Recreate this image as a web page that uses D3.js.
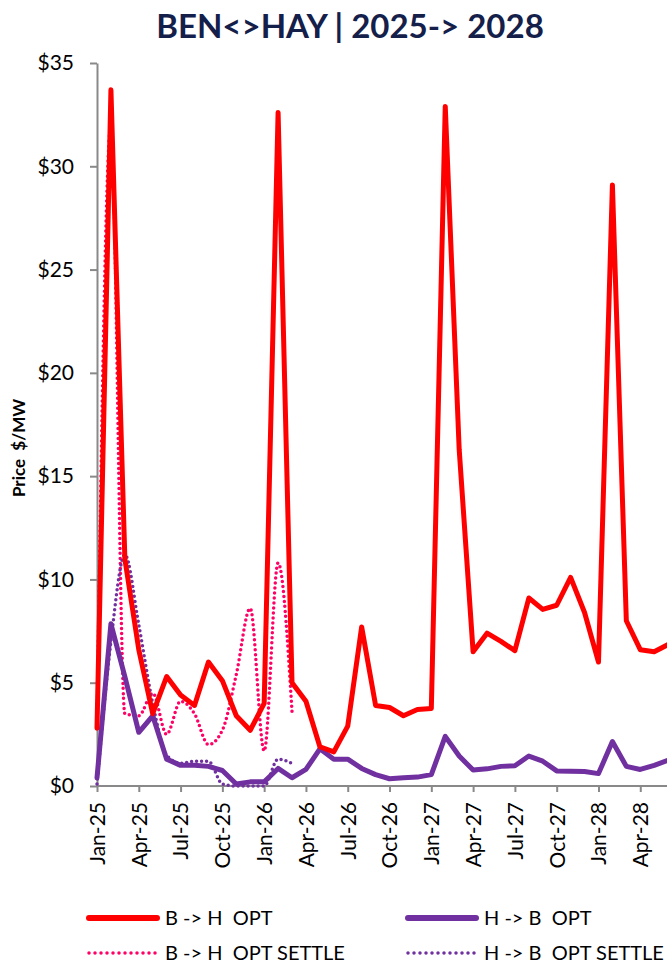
<!DOCTYPE html>
<html>
<head>
<meta charset="utf-8">
<script src="https://cdn.jsdelivr.net/npm/d3@7/dist/d3.min.js"></script>
<style>
  body { margin: 0; background: #fff; }
  svg { display: block; font-family: Lato, "Open Sans", sans-serif; }
  svg text { white-space: pre; }
  .axis path, .axis line { stroke: #898989; stroke-width: 2; }
  .axis text { fill: #000; font-size: 21px; font-family: Lato, "Open Sans", sans-serif; }
</style>
</head>
<body>
<div id="canvas"></div>
<script>
// months on the x axis, Jan-25 .. Jun-28 (chart is cut at the right edge)
var months = ['Jan-25','Feb-25','Mar-25','Apr-25','May-25','Jun-25','Jul-25','Aug-25','Sep-25','Oct-25','Nov-25','Dec-25',
              'Jan-26','Feb-26','Mar-26','Apr-26','May-26','Jun-26','Jul-26','Aug-26','Sep-26','Oct-26','Nov-26','Dec-26',
              'Jan-27','Feb-27','Mar-27','Apr-27','May-27','Jun-27','Jul-27','Aug-27','Sep-27','Oct-27','Nov-27','Dec-27',
              'Jan-28','Feb-28','Mar-28','Apr-28','May-28','Jun-28'];
var tickMonths = ['Jan-25','Apr-25','Jul-25','Oct-25','Jan-26','Apr-26','Jul-26','Oct-26','Jan-27','Apr-27','Jul-27','Oct-27','Jan-28','Apr-28'];
var yTicks = [0,5,10,15,20,25,30,35];

var bhOpt = [2.8,33.7,11.0,6.6,3.5,5.3,4.4,3.9,6.0,5.1,3.4,2.7,
             4.0,32.6,5.0,4.1,1.9,1.65,2.9,7.7,3.9,3.8,3.4,3.7,
             3.75,32.9,16.3,6.5,7.4,7.0,6.55,9.1,8.55,8.75,10.1,8.4,
             6.0,29.1,8.0,6.6,6.5,6.85];
var hbOpt = [0.4,7.85,5.3,2.6,3.4,1.3,1.0,1.0,0.95,0.75,0.1,0.2,
             0.2,0.85,0.4,0.8,1.8,1.3,1.3,0.85,0.55,0.35,0.4,0.43,
             0.55,2.4,1.45,0.77,0.83,0.95,0.98,1.45,1.2,0.73,0.72,0.7,
             0.6,2.15,0.95,0.8,1.0,1.25];
var bhSettle = [2.9,32.0,3.5,3.4,4.5,2.5,4.1,3.5,2.0,2.7,5.4,8.6,1.7,10.8,3.6];
var hbSettle = [0.1,7.0,11.2,7.8,4.0,1.5,1.1,1.2,1.2,0.1,0.0,0.0,0.0,1.3,1.1];

var W = 667, H = 967;
var m = {t:63, l:97, b:181};

var svg = d3.select('#canvas').append('svg')
    .attr('width', W).attr('height', H);

var scaleX = d3.scalePoint()
    .domain(months)
    .range([m.l, m.l + 13.93*(months.length-1)]);
var scaleY = d3.scaleLinear()
    .domain([0,35])
    .range([H - m.b, m.t]);

// title
svg.append('text')
    .attr('x', 350).attr('y', 38)
    .attr('text-anchor','middle')
    .style('font-size','33px').style('font-weight','bold')
    .style('fill','#14204a')
    .text('BEN<>HAY | 2025-> 2028');

// axes
var axisY = d3.axisLeft(scaleY)
    .tickValues(yTicks)
    .tickSize(7).tickSizeOuter(0).tickPadding(16)
    .tickFormat(function(d){ return '$' + d; });
svg.append('g').attr('class','axis axis-y')
    .attr('transform','translate(' + m.l + ',0)')
    .call(axisY);

var axisX = d3.axisBottom(scaleX)
    .tickValues(tickMonths)
    .tickSize(6).tickSizeOuter(0);
var gx = svg.append('g').attr('class','axis axis-x')
    .attr('transform','translate(0,' + (H - m.b) + ')')
    .call(axisX);
gx.select('.domain').attr('d','M' + m.l + ',0H' + W);
gx.selectAll('text')
    .attr('transform','rotate(-90)')
    .attr('x', -16).attr('y', 0).attr('dy','0.35em')
    .style('text-anchor','end');

svg.append('text')
    .attr('transform','translate(25,448) rotate(-90)')
    .attr('text-anchor','middle')
    .style('font-size','17px').style('font-weight','bold')
    .text('Price  $/MW');

// lines
var series = [
    {name:'B -> H  OPT SETTLE', vals:bhSettle, color:'#ff0066', dotted:true},
    {name:'H -> B  OPT SETTLE', vals:hbSettle, color:'#7030a0', dotted:true},
    {name:'H -> B  OPT', vals:hbOpt, color:'#7030a0', dotted:false},
    {name:'B -> H  OPT', vals:bhOpt, color:'#ff0000', dotted:false}
];

var line = d3.line()
    .x(function(d,i){ return scaleX(months[i]); })
    .y(function(d){ return scaleY(d); });
var smooth = d3.line()
    .x(function(d,i){ return scaleX(months[i]); })
    .y(function(d){ return scaleY(d); })
    .curve(d3.curveMonotoneX);

svg.selectAll('path.series')
    .data(series)
    .enter()
    .append('path')
    .attr('class','series')
    .attr('d', function(d){ return d.dotted ? smooth(d.vals) : line(d.vals); })
    .style('fill','none')
    .style('stroke', function(d){ return d.color; })
    .style('stroke-width', function(d){ return d.dotted ? 3.5 : 5; })
    .style('stroke-linecap','round')
    .style('stroke-linejoin','round')
    .style('stroke-dasharray', function(d){ return d.dotted ? '0,5' : null; });

// legend
var legendItems = [
    {name:'B -> H  OPT', color:'#ff0000', dotted:false, x:89, y:918},
    {name:'H -> B  OPT', color:'#7030a0', dotted:false, x:408, y:918},
    {name:'B -> H  OPT SETTLE', color:'#ff0066', dotted:true, x:89, y:953},
    {name:'H -> B  OPT SETTLE', color:'#7030a0', dotted:true, x:408, y:953}
];
var lg = svg.selectAll('g.legend')
    .data(legendItems)
    .enter()
    .append('g')
    .attr('class','legend')
    .attr('transform', function(d){ return 'translate(' + d.x + ',' + d.y + ')'; });
lg.append('line')
    .attr('x1',0).attr('x2',68)
    .style('stroke', function(d){ return d.color; })
    .style('stroke-width', function(d){ return d.dotted ? 3.5 : 6; })
    .style('stroke-linecap','round')
    .style('stroke-dasharray', function(d){ return d.dotted ? '0,6' : null; });
lg.append('text')
    .attr('x',76).attr('dy','0.35em')
    .style('font-size','20px')
    .text(function(d){ return d.name; });
</script>
</body>
</html>
